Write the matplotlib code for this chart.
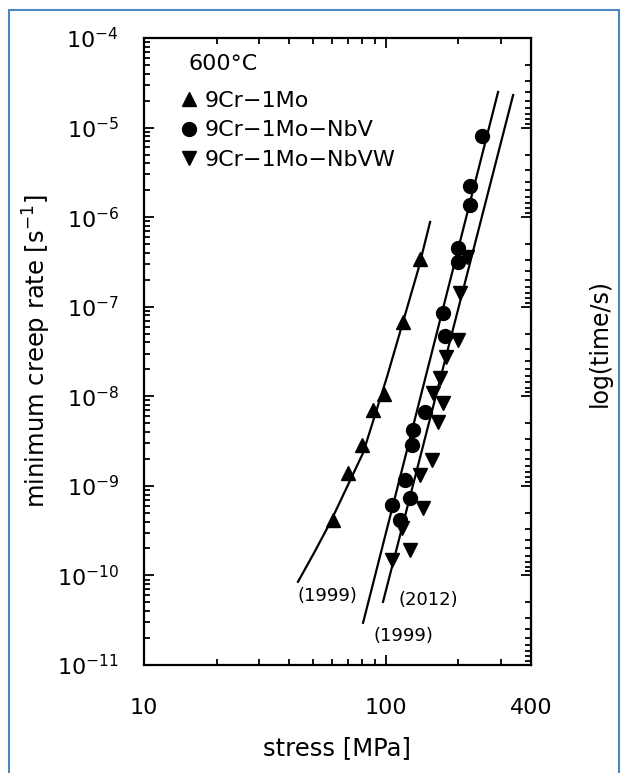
import matplotlib
matplotlib.use('Agg')
import matplotlib.pyplot as plt
from matplotlib.lines import Line2D
from matplotlib.patches import Rectangle
from matplotlib.ticker import FixedLocator, FixedFormatter, LogLocator, NullFormatter

# minimum creep rate vs stress at 600 C
mo_stress = [60.6, 69.9, 79.9, 88.8, 98.6, 118.2, 139.0]
mo_rate = [4.2e-10, 1.40e-9, 2.87e-9, 7.05e-9, 1.06e-8, 6.76e-8, 3.41e-7]

nbv_stress = [250.9, 223.8, 223.8, 199.7, 199.7, 173.0, 176.4, 145.8, 130.0, 128.8,
              120.4, 126.3, 106.4, 114.8]
nbv_rate = [8.06e-6, 2.23e-6, 1.37e-6, 4.53e-7, 3.16e-7, 8.5e-8, 4.72e-8, 6.7e-9, 4.2e-9, 2.87e-9,
            1.15e-9, 7.4e-10, 6.1e-10, 4.2e-10]

nbvw_stress = [217.5, 203.5, 199.7, 178.1, 168.2, 157.3, 173.0, 165.0, 155.8, 139.0,
               143.0, 117.0, 126.3, 106.4]
nbvw_rate = [3.6e-7, 1.43e-7, 4.26e-8, 2.75e-8, 1.6e-8, 1.09e-8, 8.4e-9, 5.2e-9, 1.95e-9, 1.33e-9,
             5.7e-10, 3.4e-10, 1.93e-10, 1.49e-10]

# fitted curves
fit_mo_stress = [43.4, 50.6, 58.9, 80.7, 101.4, 136.4, 152.9]
fit_mo_rate = [8.5e-11, 1.79e-10, 3.86e-10, 2.33e-9, 1.65e-8, 2.58e-7, 8.84e-7]
fit_1999_stress = [80.7, 292.3]
fit_1999_rate = [2.96e-11, 2.5e-5]
fit_2012_stress = [97.6, 337.3]
fit_2012_rate = [5.07e-11, 2.31e-5]

# curve labels: text, stress, rate
curve_labels = [('(1999)', 57.3, 5.9e-11), ('(2012)', 150.0, 5.3e-11), ('(1999)', 118.2, 2.1e-11)]

x_ticks = [10, 100, 400]
x_ticklabels = ['10', '100', '400']

plt.rcParams['font.family'] = ['DejaVu Sans']
plt.rcParams['font.size'] = 16
plt.rcParams['mathtext.default'] = 'regular'

fig = plt.figure(figsize=(6.22, 7.73), dpi=100)
ax = fig.add_axes([0.2315, 0.1397, 0.6222, 0.8111])

lw = 1.6
ax.plot(fit_mo_stress, fit_mo_rate, color='black', lw=lw)
ax.plot(fit_1999_stress, fit_1999_rate, color='black', lw=lw)
ax.plot(fit_2012_stress, fit_2012_rate, color='black', lw=lw)

ax.plot(mo_stress, mo_rate, '^', color='black', ms=10, ls='none')
ax.plot(nbv_stress, nbv_rate, 'o', color='black', ms=10, ls='none')
ax.plot(nbvw_stress, nbvw_rate, 'v', color='black', ms=10, ls='none')

for txt, sx, ry in curve_labels:
    ax.text(sx, ry, txt, ha='center', va='center', fontsize=13)

ax.set_xscale('log')
ax.set_yscale('log')
ax.set_xlim(10, 400)
ax.set_ylim(1e-11, 1e-4)

ax.xaxis.set_major_locator(FixedLocator(x_ticks))
ax.xaxis.set_major_formatter(FixedFormatter(x_ticklabels))
ax.xaxis.set_minor_locator(LogLocator(base=10, subs=range(2, 10)))
ax.xaxis.set_minor_formatter(NullFormatter())
ax.yaxis.set_major_locator(LogLocator(base=10, numticks=12))
ax.yaxis.set_minor_locator(LogLocator(base=10, subs=range(2, 10), numticks=12))
ax.yaxis.set_minor_formatter(NullFormatter())

ax.tick_params(axis='x', which='both', direction='in', top=True, pad=24, width=1.3)
ax.tick_params(axis='y', which='both', direction='in', right=False, pad=18, width=1.3)
ax.tick_params(which='major', length=7)
ax.tick_params(which='minor', length=4)
for sp in ax.spines.values():
    sp.set_linewidth(1.6)

# reversed log scale for time on the right-hand side
sec = ax.secondary_yaxis('right', functions=(lambda y: 1 / y, lambda y: 1 / y))
sec.yaxis.set_major_formatter(NullFormatter())
sec.yaxis.set_minor_formatter(NullFormatter())
sec.tick_params(which='both', direction='in', width=1.3)
sec.tick_params(which='major', length=7)
sec.tick_params(which='minor', length=4)

ax.set_xlabel('stress [MPa]', fontsize=17.5)
ax.xaxis.set_label_coords(0.5, -0.113)
ax.set_ylabel('minimum creep rate [s$^{-1}$]', fontsize=17.5)
ax.yaxis.set_label_coords(-0.235, 0.5)
fig.text(600 / 622, 1 - 343 / 773, 'log(time/s)', rotation=90, ha='center', va='center',
         fontsize=17)

ax.text(0.114, 0.958, '600°C', transform=ax.transAxes, ha='left', va='center')
handles = [
    Line2D([], [], marker='^', color='black', ls='none', ms=10, label='9Cr−1Mo'),
    Line2D([], [], marker='o', color='black', ls='none', ms=10, label='9Cr−1Mo−NbV'),
    Line2D([], [], marker='v', color='black', ls='none', ms=10, label='9Cr−1Mo−NbVW'),
]
ax.legend(handles=handles, loc='upper left', bbox_to_anchor=(0.07, 0.93), frameon=False,
          handlelength=0.8, handletextpad=0.3, labelspacing=0.43, borderaxespad=0)

fig.add_artist(Rectangle((9 / 622, -0.05), 610 / 622, 1.05 - 10 / 773, transform=fig.transFigure,
                         fill=False, edgecolor='#4a86c0', lw=1.5))

fig.savefig('out.png', dpi=100)
